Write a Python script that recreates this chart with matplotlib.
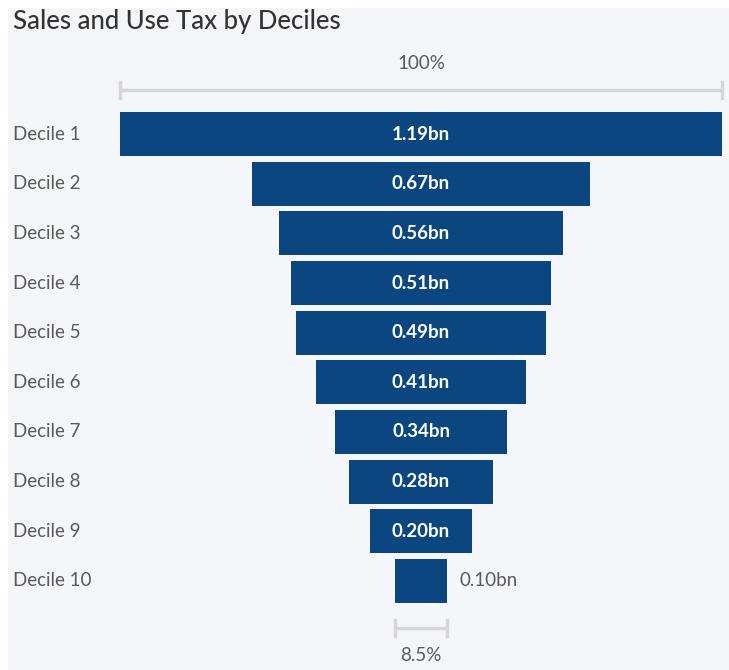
import matplotlib
matplotlib.use("Agg")
import matplotlib.pyplot as plt
from matplotlib.transforms import blended_transform_factory

title = "Sales and Use Tax by Deciles"
categories = ["Decile 1", "Decile 2", "Decile 3", "Decile 4", "Decile 5",
              "Decile 6", "Decile 7", "Decile 8", "Decile 9", "Decile 10"]
values_bn = [1.190, 0.667, 0.563, 0.514, 0.494, 0.414, 0.340, 0.284, 0.203, 0.101]

BAR = "#0B4680"
BG = "#F5F6F9"
GRAY = "#5A5A5A"
FONT = "Lato"

W, H = 729, 670
fig = plt.figure(figsize=(W / 100, H / 100), dpi=100, facecolor="white")
# card background
fig.patches.append(plt.Rectangle((8 / W, 0), 1 - 8 / W, 1 - 8 / H,
                                 transform=fig.transFigure, facecolor=BG,
                                 edgecolor="none", zorder=-10))

x0, x1 = 120, 722
ytop, ybot = 109.2, 605.8
ax = fig.add_axes([x0 / W, 1 - ybot / H, (x1 - x0) / W, (ybot - ytop) / H])
ax.set_zorder(5)
ax.set_facecolor("none")
vmax = values_bn[0]
ax.set_xlim(-vmax / 2, vmax / 2)
n = len(categories)
ax.set_ylim(n - 0.5, -0.5)
ax.axis("off")

ypos = list(range(n))
lefts = [-v / 2 for v in values_bn]
ax.barh(ypos, values_bn, left=lefts, height=0.88, color=BAR, edgecolor="none")

for i, v in enumerate(values_bn):
    lab = f"{v:.2f}bn"
    if v / vmax > 0.12:
        ax.text(0, i, lab, ha="center", va="center", color="white",
                fontsize=13.5, family=FONT, fontweight="bold")
    else:
        ax.text(v / 2 + 0.025, i, lab, ha="left", va="center", color=GRAY,
                fontsize=13.5, family=FONT)

trans = blended_transform_factory(fig.transFigure, ax.transData)
for i, c in enumerate(categories):
    ax.text(13 / W, i, c, transform=trans, ha="left", va="center",
            color=GRAY, fontsize=13.5, family=FONT, clip_on=False)

# brackets
BR = "#D6D6D6"
rowpx = (ybot - ytop) / n
def py(p):  # pixel y -> data y
    return -0.5 + (p - ytop) / rowpx

def bracket(v, yp, ytext, txt):
    y = py(yp)
    dy = 8 / rowpx
    ax.plot([-v / 2, v / 2], [y, y], color=BR, lw=2.5, clip_on=False, solid_capstyle="butt")
    for xx in (-v / 2, v / 2):
        ax.plot([xx, xx], [y - dy, y + dy], color=BR, lw=2.5, clip_on=False)
    ax.text(0, py(ytext), txt, ha="center", va="center", color=GRAY,
            fontsize=13.5, family=FONT)

bracket(values_bn[0], 90, 64, f"{values_bn[0] / vmax * 100:.0f}%")
bracket(values_bn[-1], 628, 656, f"{values_bn[-1] / vmax * 100:.1f}%")

fig.text(13 / W, 1 - 22 / H, title, ha="left", va="center", fontsize=18.5,
         color="#333333", family=FONT, fontweight="medium")

fig.savefig("out.png", dpi=100, facecolor=fig.get_facecolor())
